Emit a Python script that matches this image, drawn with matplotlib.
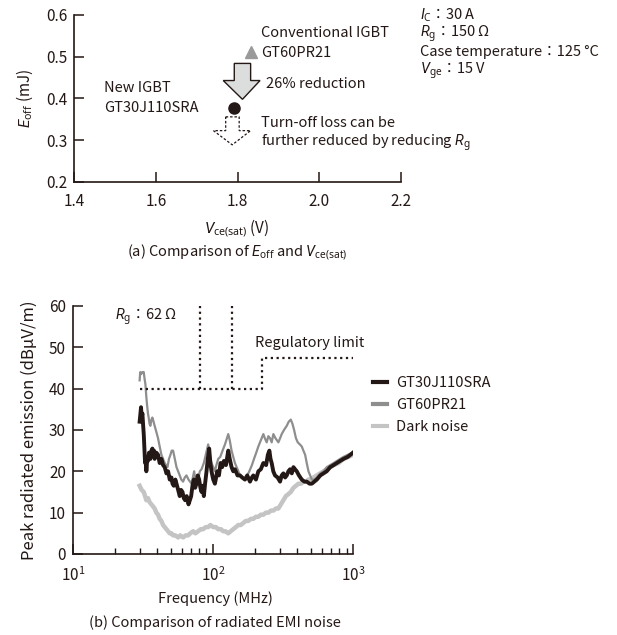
import matplotlib
matplotlib.use("Agg")
import matplotlib.pyplot as plt
from matplotlib.patches import Polygon
from matplotlib.ticker import FormatStrFormatter

plt.rcParams['font.family'] = ['Noto Sans CJK JP', 'DejaVu Sans']
plt.rcParams['mathtext.fontset'] = 'custom'
plt.rcParams['mathtext.rm'] = 'Noto Sans'
plt.rcParams['mathtext.it'] = 'Roboto:italic'
plt.rcParams['mathtext.bf'] = 'Noto Sans:bold'

INK = '#231815'

# --- (a) Eoff vs Vce(sat) ---
vce_conv, eoff_conv = 1.832, 0.512   # GT60PR21
vce_new, eoff_new = 1.792, 0.378     # GT30J110SRA

# --- (b) radiated EMI (MHz, dBuV/m) ---
f_new = [30.0, 30.4, 30.7, 31.0, 31.4, 31.8, 32.1, 32.5, 32.8, 33.2, 33.5, 34.0, 34.4,
         35.0, 35.8, 36.4, 37.0, 37.4, 38.0, 38.4, 39.5, 40.6, 41.7, 42.9, 44.1, 45.3,
         46.6, 47.9, 49.2, 50.6, 51.5, 52.6, 54.0, 55.0, 56.5, 58.0, 59.3, 60.7, 62.0,
         63.4, 65.0, 67.0, 68.5, 70.0, 71.5, 73.1, 74.7, 76.4, 78.0, 79.8, 81.5, 83.0,
         84.5, 86.2, 88.0, 90.1, 92.0, 94.1, 96.0, 97.8, 100.6, 103.4, 105.5, 107.4,
         110.5, 113.5, 116.5, 119.9, 124.0, 128.8, 132.0, 136.0, 139.8, 143.7, 150,
         156.1, 162, 169.5, 176, 184.1, 190, 194.5, 203, 211.2, 220, 229.3, 240, 247,
         253.2, 258, 263.0, 270, 277.9, 290, 301.8, 310, 318.8, 328, 336.9, 346, 355.9,
         366, 376.1, 386, 397.2, 412, 431.3, 450, 468.4, 490, 508.7, 530, 552.5, 585,
         616.6, 650, 688.3, 728, 768.0, 810, 857.6, 920, 1000]
e_new = [32, 34, 35.5, 33, 34, 31, 29, 25, 22, 23, 20, 23, 22.5,
         24.5, 23, 25, 25.5, 24, 25, 23, 24.5, 24, 22, 23, 21.5, 21,
         19.5, 20, 18, 18.5, 17, 16.5, 18, 17, 15.5, 14, 15.5, 15, 13.5,
         13, 14, 12, 13, 14, 16.5, 18, 16, 17, 19, 18, 16, 15,
         16.5, 14, 17, 20, 23, 25.5, 22, 20, 18, 17, 18.5, 20,
         19, 22, 21, 22.5, 21.5, 25, 23, 21, 20, 20.5, 19,
         19, 18.5, 18, 19, 17.5, 18.5, 19, 18, 20, 20.5, 22, 21.5, 24,
         25, 23, 22, 20, 19, 18.5, 17.5, 19, 19.5, 18.5, 19, 20, 20.5,
         19.5, 21, 20.5, 20, 19, 18, 17.5, 17.5, 17, 17, 17.5, 18, 19,
         19.5, 20, 21, 21.5, 22, 22.5, 23, 23.5, 24.5]

f_conv = [30.0, 30.3, 30.7, 31.4, 32.1, 32.5, 33.0, 33.5, 33.9, 34.4, 34.8, 35.3, 35.8,
          36.4, 37.0, 37.7, 38.4, 39.5, 40.6, 41.7, 42.9, 44.1, 45.3, 46.3, 47.4, 48.6,
          49.8, 50.8, 52.0, 53.5, 55.0, 56.5, 58.0, 59.5, 61.3, 63.0, 64.8, 67.0, 70.4,
          72.0, 73.5, 75.0, 76.4, 78.5, 80.7, 83.0, 86.2, 89.0, 92.6, 95.0, 97.8, 100.6,
          103.4, 106, 109.2, 113.0, 117.3, 122, 128.8, 132, 136.0, 139.8, 143.7, 150,
          156.1, 162, 169.5, 176, 182.1, 190, 196.7, 204, 211.2, 220, 229.3, 235, 242.3,
          249, 256.0, 263, 270.4, 280, 293.6, 302, 310.1, 322, 336.9, 348, 359.9, 370,
          380.2, 392, 403.8, 418, 431.3, 443, 455.8, 468, 481.6, 495, 508.7, 530, 552.5,
          585, 616.6, 650, 688.3, 728, 768.0, 810, 857.6, 920, 1000]
e_conv = [42, 44, 43.5, 44, 44, 42.5, 41, 38, 36, 34, 33, 31.5, 31,
          32.5, 33, 32, 31, 29.5, 28, 26, 24, 23, 22, 21.5, 21, 23,
          24, 25, 25, 23, 21, 20, 19, 18, 17.5, 18.5, 19, 18, 17,
          18.5, 20, 18, 17, 18, 20, 20.5, 22, 24, 26.5, 24, 22, 21,
          20, 21.5, 23, 23.5, 25, 26.5, 29, 27.5, 25, 23.5, 22, 20.5,
          19, 18.5, 18, 19, 20, 21.5, 23, 24.5, 26, 27.5, 29, 28, 27,
          28.5, 28, 27, 29, 28, 27, 28, 29, 30, 31, 32, 32.5, 31.5,
          30, 28, 27, 26.5, 26, 25, 24, 22, 20, 19, 18, 18, 18.5,
          19.5, 20, 21, 21.5, 22, 22.5, 23, 23.5, 24, 24.5]

f_dark = [30, 31, 32.1, 32.8, 33.5, 34.4, 35.4, 36.4, 37.4, 38.4, 39.5, 40.6, 41.7, 42.9,
          44.1, 45.3, 46.6, 47.9, 49.2, 50.6, 52.0, 54, 56.5, 58.5, 61.3, 64, 66.6, 69,
          72.3, 75, 78.5, 82, 85.2, 89, 92.6, 96, 100.6, 105, 109.2, 114, 118.6, 123,
          128.8, 134, 139.8, 146, 151.8, 158, 164.9, 172, 179.1, 187, 194.5, 203, 211.2,
          220, 229.3, 239, 249.1, 260, 270.4, 282, 293.6, 306, 318.8, 332, 346.3, 360,
          376.1, 392, 408.3, 425, 443.4, 462, 481.6, 500, 523.0, 552, 583.8, 617, 651.5,
          690, 727.1, 790, 857.6, 930, 1000]
e_dark = [16.5, 15.5, 15, 14, 13, 13.5, 12.5, 12, 11.5, 11, 10, 9.5, 8.5, 8,
          7, 6.5, 6, 5.5, 5, 5, 4.5, 4.5, 4, 4.5, 4, 4.5, 4.5, 5,
          5.5, 5, 5.5, 6, 6, 6.5, 6.5, 7, 6.5, 6.5, 6, 6, 5.5, 5.5,
          5, 5.5, 6, 6.5, 7, 7, 7.5, 8, 8, 8.5, 8.5, 9, 9,
          9.5, 9.5, 10, 10, 10.5, 10.5, 11, 11, 12, 13, 14, 14.5, 15,
          16, 16.5, 17, 17, 17.5, 17.5, 18, 18, 18.5, 19, 19.5, 20, 20.5,
          21, 21.5, 22, 23, 23.5, 24]

limit_f = [30, 225, 225, 1000]
limit_db = [40, 40, 47.5, 47.5]
excluded_f = [81, 136]

fig = plt.figure(figsize=(6.17, 6.35), dpi=100)

# ---------- top panel ----------
ax1 = fig.add_axes([0.120, 0.7134, 0.530, 0.263])
ax1.set_xlim(1.4, 2.2)
ax1.set_ylim(0.2, 0.6)
ax1.set_xticks([1.4, 1.6, 1.8, 2.0, 2.2])
ax1.set_yticks([0.2, 0.3, 0.4, 0.5, 0.6])
ax1.xaxis.set_major_formatter(FormatStrFormatter('%.1f'))
ax1.yaxis.set_major_formatter(FormatStrFormatter('%.1f'))
for s in ['top', 'right']:
    ax1.spines[s].set_visible(False)
for s in ['left', 'bottom']:
    ax1.spines[s].set_color(INK)
    ax1.spines[s].set_linewidth(1.2)
ax1.tick_params(direction='in', length=7, width=1.1, color=INK, labelsize=11,
                labelcolor=INK, pad=5)
ax1.tick_params(axis='x', pad=8)

ax1.plot([vce_conv], [eoff_conv], marker='^', color='#9a9a9a', ms=8, ls='none')
ax1.plot([vce_new], [eoff_new], marker='o', color=INK, ms=8, ls='none')

solid_arrow = Polygon([(1.792, 0.484), (1.832, 0.484), (1.832, 0.443), (1.855, 0.443),
                       (1.812, 0.398), (1.765, 0.443), (1.792, 0.443)],
                      closed=True, facecolor='#dcdddd', edgecolor=INK, lw=1.0)
ax1.add_patch(solid_arrow)
dash_arrow = Polygon([(1.771, 0.356), (1.804, 0.356), (1.804, 0.323), (1.832, 0.323),
                      (1.787, 0.289), (1.741, 0.323), (1.771, 0.323)],
                     closed=True, facecolor='white', edgecolor=INK, lw=0.9, ls=(0, (2, 1.5)))
ax1.add_patch(dash_arrow)

fs = 10.5
ax1.text(1.857, 0.557, 'Conventional IGBT', fontsize=fs, color=INK, va='center')
ax1.text(1.857, 0.509, 'GT60PR21', fontsize=fs, color=INK, va='center')
ax1.text(1.870, 0.435, '26% reduction', fontsize=fs, color=INK, va='center')
ax1.text(1.474, 0.425, 'New IGBT', fontsize=fs, color=INK, va='center')
ax1.text(1.474, 0.377, 'GT30J110SRA', fontsize=fs, color=INK, va='center')
ax1.text(1.857, 0.341, 'Turn-off loss can be', fontsize=fs, color=INK, va='center')
ax1.text(1.857, 0.294, r'further reduced by reducing $R_\mathrm{g}$', fontsize=fs,
         color=INK, va='center')

ax1.set_ylabel(r'$E_\mathrm{off}$ (mJ)', fontsize=11, color=INK, labelpad=8)
fig.text(0.384, 1 - 228 / 635, r'$V_\mathrm{ce(sat)}$ (V)', fontsize=11, color=INK,
         ha='center', va='center')
fig.text(0.384, 1 - 252 / 635, r'(a) Comparison of $E_\mathrm{off}$ and $V_\mathrm{ce(sat)}$',
         fontsize=10.5, color=INK, ha='center', va='center')

cond = [r'$I_\mathrm{C}$：30 A', r'$R_\mathrm{g}$：150 Ω',
        'Case temperature：125 °C', r'$V_\mathrm{ge}$：15 V']
for i, t in enumerate(cond):
    fig.text(420 / 617, 1 - (15 + i * 18.5) / 635, t, fontsize=10.5, color=INK,
             ha='left', va='center')

# ---------- bottom panel ----------
ax2 = fig.add_axes([0.118, 0.1276, 0.454, 0.3906])
ax2.set_xscale('log')
ax2.set_xlim(10, 1000)
ax2.set_ylim(0, 60)
ax2.set_yticks([0, 10, 20, 30, 40, 50, 60])
for s in ['top', 'right']:
    ax2.spines[s].set_visible(False)
for s in ['left', 'bottom']:
    ax2.spines[s].set_color(INK)
    ax2.spines[s].set_linewidth(1.2)
ax2.tick_params(which='major', direction='in', length=7, width=1.1, color=INK,
                labelsize=11, labelcolor=INK, pad=5)
ax2.tick_params(axis='x', which='major', pad=9)
ax2.tick_params(which='minor', direction='in', length=4.5, width=1.0, color=INK)

ax2.plot(f_dark, e_dark, color='#c4c4c4', lw=3.2, label='Dark noise', zorder=2)
ax2.plot(f_conv, e_conv, color='#8e8e8e', lw=1.6, label='GT60PR21', zorder=3)
ax2.plot(f_new, e_new, color=INK, lw=2.8, label='GT30J110SRA', zorder=4)

ax2.plot(limit_f, limit_db, color=INK, lw=1.6, ls=(0, (1, 1.6)), zorder=5)
for fx in excluded_f:
    ax2.plot([fx, fx], [40, 60], color=INK, lw=1.6, ls=(0, (1, 1.6)), zorder=5,
             clip_on=False)

ax2.text(200, 51, 'Regulatory limit', fontsize=10.5, color=INK, ha='left', va='center')
ax2.text(0.15, 0.955, r'$R_\mathrm{g}$：62 Ω', transform=ax2.transAxes, fontsize=10.5,
         color=INK, ha='left', va='center')

handles, labels = ax2.get_legend_handles_labels()
order = [2, 1, 0]
leg = ax2.legend([handles[i] for i in order], [labels[i] for i in order],
                 loc='center left', bbox_to_anchor=(1.07, 0.60), frameon=False,
                 fontsize=10.5, handlelength=1.0, handletextpad=0.6, labelspacing=0.55,
                 borderaxespad=0, borderpad=0)
for t in leg.get_texts():
    t.set_color(INK)
for l in leg.get_lines():
    l.set_linewidth(3.0)

ax2.set_ylabel('Peak radiated emission (dBµV/m)', fontsize=12, color=INK, labelpad=8)
fig.text(215 / 617, 1 - 599 / 635, 'Frequency (MHz)', fontsize=10.5, color=INK,
         ha='center', va='center')
fig.text(215 / 617, 1 - 623 / 635, '(b) Comparison of radiated EMI noise', fontsize=10.5,
         color=INK, ha='center', va='center')

fig.savefig('out.png', dpi=100)
